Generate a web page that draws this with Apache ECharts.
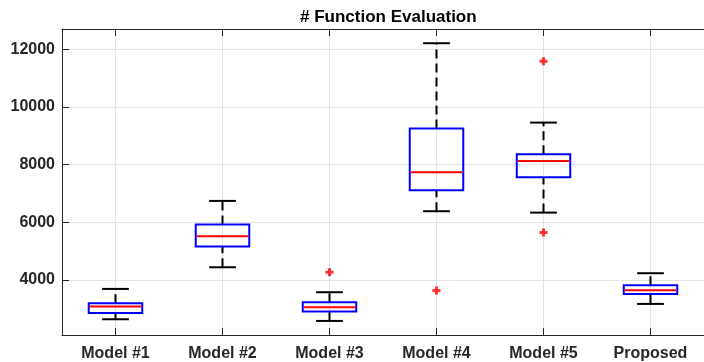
<!DOCTYPE html>
<html>
<head>
<meta charset="utf-8">
<script src="https://cdn.jsdelivr.net/npm/echarts@6/dist/echarts.min.js"></script>
<style>html,body{margin:0;padding:0;background:#fff}#c{width:704px;height:362px}</style>
</head>
<body>
<div id="c"></div>
<script>
const categories = ['Model #1', 'Model #2', 'Model #3', 'Model #4', 'Model #5', 'Proposed'];
const lowerWhisker = [2636, 4439, 2578, 6382, 6334, 3168];
const q1 = [2856, 5156, 2902, 7110, 7561, 3515];
const median = [3075, 5514, 3053, 7734, 8126, 3643];
const q3 = [3192, 5918, 3225, 9247, 8359, 3816];
const upperWhisker = [3688, 6739, 3573, 12207, 9455, 4232];
const outliers = [[2, 4266], [3, 3630], [4, 11584], [4, 5641]];
const yTicks = [4000, 6000, 8000, 10000, 12000];

const FONT = '"Liberation Sans", Arial, sans-serif';
const TXT = '#262626';

const boxData = categories.map((c, i) => [i, lowerWhisker[i], q1[i], median[i], q3[i], upperWhisker[i]]);

const chart = echarts.init(document.getElementById('c'), null, {renderer: 'canvas'});
chart.setOption({
  animation: false,
  backgroundColor: '#fff',
  title: {
    text: '# Function Evaluation',
    left: 300, top: 9, padding: 0,
    textStyle: {fontFamily: FONT, fontSize: 17, fontWeight: 'bold', color: '#000'}
  },
  grid: {left: 62, right: -10, top: 29, bottom: 27, containLabel: false},
  xAxis: [{
    type: 'category', data: categories, position: 'bottom',
    axisLine: {show: true, lineStyle: {color: TXT, width: 1}},
    axisTick: {show: true, inside: true, alignWithLabel: true, length: 7, lineStyle: {color: TXT}},
    axisLabel: {color: TXT, fontFamily: FONT, fontSize: 16, fontWeight: 'bold', margin: 11},
    splitLine: {show: true, alignWithLabel: true, lineStyle: {color: '#e3e3e3', width: 1}}
  }, {
    type: 'category', data: categories, position: 'top',
    axisLine: {show: true, onZero: false, lineStyle: {color: TXT, width: 1}},
    axisTick: {show: true, inside: true, alignWithLabel: true, length: 7, lineStyle: {color: TXT}},
    axisLabel: {show: false},
    splitLine: {show: false}
  }],
  yAxis: {
    type: 'value', min: 2090, max: 12700,
    axisLine: {show: true, lineStyle: {color: TXT, width: 1}},
    axisTick: {show: true, inside: true, length: 7, customValues: yTicks, lineStyle: {color: TXT}},
    axisLabel: {color: TXT, fontFamily: FONT, fontSize: 16, fontWeight: 'bold', margin: 7,
      customValues: yTicks, formatter: function (v) { return String(v); }},
    splitLine: {show: true, lineStyle: {color: '#e3e3e3', width: 1}}
  },
  series: [{
    type: 'custom',
    xAxisIndex: 0,
    data: boxData,
    encode: {x: 0, y: [1, 2, 3, 4, 5]},
    renderItem: function (params, api) {
      const i = api.value(0);
      const cx = api.coord([i, api.value(3)])[0];
      const band = api.size([1, 0])[0];
      const bw = band * 0.5, cw = band * 0.25;
      const yLo = api.coord([i, api.value(1)])[1];
      const yQ1 = api.coord([i, api.value(2)])[1];
      const yMed = api.coord([i, api.value(3)])[1];
      const yQ3 = api.coord([i, api.value(4)])[1];
      const yHi = api.coord([i, api.value(5)])[1];
      const wStyle = {stroke: '#000', lineWidth: 2, lineDash: [9, 5], fill: null};
      const cStyle = {stroke: '#000', lineWidth: 2, fill: null};
      return {
        type: 'group',
        children: [
          {type: 'line', shape: {x1: cx, y1: yQ3, x2: cx, y2: yHi}, style: wStyle},
          {type: 'line', shape: {x1: cx, y1: yLo, x2: cx, y2: yQ1}, style: wStyle},
          {type: 'line', shape: {x1: cx - cw / 2, y1: yHi, x2: cx + cw / 2, y2: yHi}, style: cStyle},
          {type: 'line', shape: {x1: cx - cw / 2, y1: yLo, x2: cx + cw / 2, y2: yLo}, style: cStyle},
          {type: 'rect', shape: {x: cx - bw / 2, y: yQ3, width: bw, height: yQ1 - yQ3},
            style: {stroke: '#0000ff', lineWidth: 2, fill: null}},
          {type: 'line', shape: {x1: cx - bw / 2 + 1, y1: yMed, x2: cx + bw / 2 - 1, y2: yMed},
            style: {stroke: '#ff0000', lineWidth: 2, fill: null}}
        ]
      };
    }
  }, {
    type: 'scatter',
    xAxisIndex: 0,
    data: outliers,
    symbol: 'path://M2.5,0H5.5V2.5H8V5.5H5.5V8H2.5V5.5H0V2.5H2.5Z',
    symbolSize: 8,
    itemStyle: {color: '#ff0000'}
  }]
});
</script>
</body>
</html>
